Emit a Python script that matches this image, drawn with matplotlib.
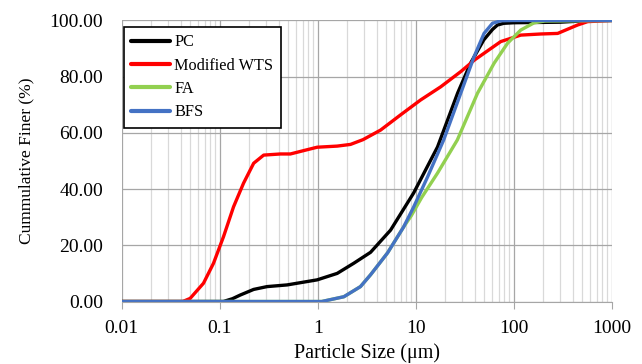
import matplotlib
matplotlib.use("Agg")
import matplotlib.pyplot as plt
from matplotlib.ticker import FixedLocator, LogLocator, NullFormatter

plt.rcParams['font.family'] = ['Liberation Serif', 'DejaVu Serif']

# particle size (um) and cumulative finer (%)
pc_size = [0.01, 0.109, 0.135, 0.162, 0.222, 0.304, 0.487, 0.986, 1.58, 2.33,
           3.46, 5.54, 9.52, 16.7, 26.8, 36.4, 49.5, 60.7, 68.3, 79.2, 100,
           300, 600, 1000]
pc_finer = [0, 0, 1.0, 2.3, 4.3, 5.3, 5.9, 7.7, 10.0, 13.6,
            17.5, 25.4, 38.6, 55.0, 74.2, 84.9, 93.1, 96.8, 98.4, 99.0, 99.2,
            99.4, 100, 100]

wts_size = [0.01, 0.042, 0.0499, 0.0683, 0.0864, 0.1094, 0.1384, 0.175, 0.222,
            0.281, 0.416, 0.526, 0.719, 0.986, 1.58, 2.16, 2.9, 4.38, 7.0,
            11.2, 18.0, 28.8, 40.0, 73.8, 118, 189, 281, 355, 449, 569, 1000]
wts_finer = [0, 0, 1.1, 6.5, 13.6, 23.1, 33.7, 42.1, 49.2,
             52.1, 52.5, 52.5, 53.7, 54.9, 55.3, 55.9, 57.6, 61.0, 66.4,
             71.7, 76.4, 81.8, 86.0, 92.5, 94.8, 95.2, 95.4, 96.9, 98.4, 99.6, 100]

fa_size = [0.01, 1.1, 1.85, 2.73, 3.46, 5.16, 7.52, 9.0, 11.5, 16.7, 26.6,
           42.7, 63.1, 86.5, 118, 162, 208, 1000]
fa_finer = [0, 0, 1.7, 5.3, 9.5, 17.3, 26.5, 30.5, 37.0, 45.7, 57.5,
            74.1, 84.8, 91.9, 96.6, 99.2, 99.8, 100]

bfs_size = [0.01, 1.1, 1.85, 2.73, 3.46, 5.16, 7.52, 9.52, 13.2, 19.3, 28.8,
            39.4, 49.8, 60.7, 73.8, 100, 1000]
bfs_finer = [0, 0, 1.7, 5.3, 9.5, 17.3, 26.5, 33.6, 44.3, 57.5, 74.1,
             87.1, 95.4, 99.0, 99.9, 100, 100]

series = [
    ("PC", pc_size, pc_finer, "#000000"),
    ("Modified WTS", wts_size, wts_finer, "#ff0000"),
    ("FA", fa_size, fa_finer, "#92d050"),
    ("BFS", bfs_size, bfs_finer, "#4472c4"),
]

fig = plt.figure(figsize=(6.42, 3.64), dpi=100)
ax = fig.add_axes([0.1896, 0.1717, 0.7632, 0.772])

for name, x, y, color in series:
    ax.plot(x, y, color=color, lw=2.4, label=name,
            solid_joinstyle='round', solid_capstyle='round')

ax.set_xscale('log')
ax.set_xlim(0.01, 1000)
ax.set_ylim(0, 100)

ax.xaxis.set_major_locator(FixedLocator([0.01, 0.1, 1, 10, 100, 1000]))
ax.set_xticklabels(["0.01", "0.1", "1", "10", "100", "1000"])
ax.xaxis.set_minor_locator(LogLocator(base=10, subs=range(2, 10), numticks=20))
ax.xaxis.set_minor_formatter(NullFormatter())
ax.set_yticks([0, 20, 40, 60, 80, 100])
ax.set_yticklabels([f"{v:.2f}" for v in [0, 20, 40, 60, 80, 100]])

ax.grid(True, which='major', color='#a6a6a6', lw=0.9)
ax.grid(True, which='minor', axis='x', color='#d9d9d9', lw=0.9)
ax.set_axisbelow(True)

for s in ['top', 'right', 'left']:
    ax.spines[s].set_visible(False)
ax.spines['bottom'].set_color('#a6a6a6')
ax.tick_params(axis='x', which='major', length=5, color='#a6a6a6', labelsize=14, pad=8)
ax.tick_params(axis='x', which='minor', length=0)
ax.tick_params(axis='y', length=0, labelsize=14, pad=13.5)

ax.set_xlabel("Particle Size (\u03bcm)", fontsize=14.5, labelpad=5)
ax.set_ylabel("Cummulative Finer (%)", fontsize=12.5, labelpad=11)

leg = ax.legend(loc='upper left', bbox_to_anchor=(124 / 642, 1 - 27 / 364),
                bbox_transform=fig.transFigure, fontsize=11.7, frameon=True,
                fancybox=False, edgecolor='black', framealpha=1,
                handlelength=2.4, handletextpad=0.25, labelspacing=0.45,
                borderpad=0.45, borderaxespad=0)
leg.get_frame().set_linewidth(1.2)
for line in leg.get_lines():
    line.set_linewidth(3)

fig.savefig("out.png", dpi=100)
